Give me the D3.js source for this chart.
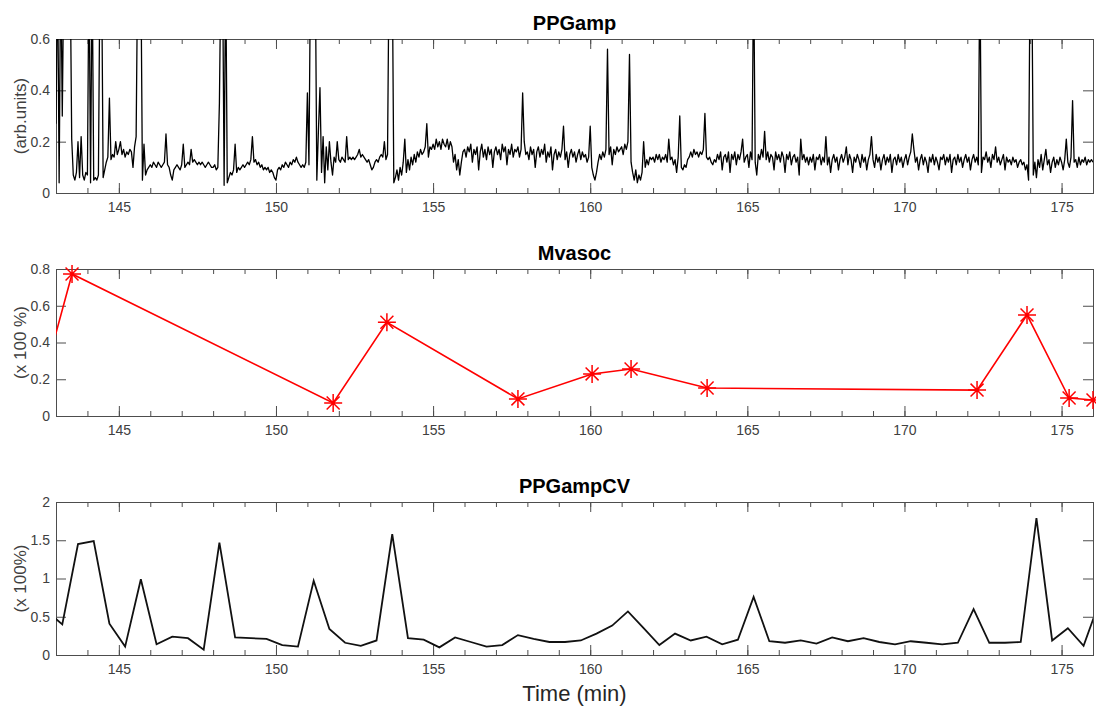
<!DOCTYPE html>
<html>
<head>
<meta charset="utf-8">
<script src="https://cdn.jsdelivr.net/npm/d3@7"></script>
<style>
body { margin: 0; background: #fff; }
svg { display: block; font-family: "Liberation Sans", Arial, sans-serif; }
</style>
</head>
<body>
<div id="chart"></div>
<script>
//Datos PPGamp (muestreo regular cada 0.05 min desde 143)
const ppgAmpStart = 143, ppgAmpStep = 0.05;
const ppgAmp = [
  0.27,0.9,0.04,0.9,0.3,0.9,0.9,0.9,0.9,0.9,0.21,0.07,0.05,0.08,0.20,0.06,0.22,0.07,0.05,0.08,
  0.07,0.9,0.04,0.9,0.05,0.06,0.05,0.07,0.9,0.9,0.06,0.09,0.12,0.14,0.37,0.13,0.15,0.14,0.20,0.15,
  0.17,0.20,0.15,0.17,0.14,0.16,0.15,0.17,0.16,0.10,0.18,0.22,0.9,0.9,0.9,0.05,0.19,0.07,0.09,0.10,
  0.11,0.10,0.12,0.11,0.10,0.12,0.11,0.10,0.11,0.12,0.23,0.11,0.10,0.07,0.05,0.09,0.10,0.11,0.10,0.09,
  0.11,0.19,0.10,0.11,0.12,0.11,0.17,0.12,0.13,0.12,0.11,0.12,0.11,0.12,0.11,0.10,0.11,0.12,0.11,0.10,
  0.10,0.11,0.09,0.10,0.35,0.9,0.9,0.03,0.9,0.04,0.06,0.08,0.07,0.09,0.19,0.08,0.10,0.09,0.10,0.11,
  0.10,0.11,0.12,0.11,0.13,0.22,0.12,0.13,0.11,0.12,0.10,0.11,0.09,0.10,0.09,0.10,0.08,0.09,0.08,0.06,
  0.05,0.09,0.10,0.09,0.11,0.10,0.12,0.11,0.10,0.12,0.11,0.13,0.12,0.14,0.12,0.11,0.10,0.11,0.10,0.12,
  0.39,0.11,0.9,0.9,0.9,0.9,0.05,0.24,0.41,0.08,0.22,0.04,0.18,0.09,0.20,0.12,0.07,0.14,0.12,0.20,
  0.13,0.12,0.14,0.13,0.12,0.22,0.13,0.14,0.13,0.14,0.13,0.14,0.15,0.17,0.14,0.15,0.14,0.13,0.12,0.13,
  0.11,0.09,0.10,0.12,0.13,0.12,0.14,0.15,0.14,0.20,0.13,0.15,0.9,0.9,0.9,0.04,0.06,0.09,0.05,0.10,
  0.07,0.12,0.21,0.08,0.13,0.09,0.14,0.11,0.15,0.12,0.16,0.14,0.17,0.15,0.16,0.18,0.27,0.14,0.18,0.17,
  0.19,0.17,0.21,0.18,0.20,0.17,0.21,0.19,0.18,0.21,0.17,0.20,0.18,0.12,0.15,0.09,0.13,0.07,0.12,0.16,
  0.17,0.14,0.18,0.16,0.19,0.12,0.17,0.15,0.18,0.09,0.16,0.19,0.14,0.17,0.13,0.18,0.15,0.17,0.10,0.16,
  0.18,0.15,0.17,0.13,0.19,0.16,0.18,0.11,0.17,0.15,0.19,0.14,0.17,0.16,0.18,0.14,0.17,0.39,0.20,0.15,
  0.16,0.13,0.18,0.15,0.17,0.10,0.16,0.18,0.14,0.17,0.15,0.19,0.12,0.16,0.14,0.18,0.09,0.15,0.17,0.13,
  0.16,0.14,0.17,0.26,0.13,0.16,0.10,0.15,0.17,0.14,0.16,0.12,0.15,0.17,0.13,0.16,0.14,0.15,0.12,0.14,
  0.26,0.10,0.07,0.05,0.08,0.12,0.15,0.13,0.16,0.14,0.17,0.56,0.15,0.18,0.11,0.17,0.15,0.18,0.16,0.17,
  0.18,0.15,0.19,0.17,0.20,0.54,0.12,0.08,0.05,0.09,0.04,0.07,0.05,0.08,0.20,0.10,0.13,0.11,0.14,0.13,
  0.14,0.12,0.15,0.13,0.15,0.12,0.14,0.13,0.15,0.12,0.21,0.13,0.14,0.11,0.13,0.08,0.14,0.30,0.10,0.09,
  0.11,0.10,0.13,0.14,0.16,0.14,0.17,0.15,0.16,0.14,0.16,0.15,0.17,0.31,0.14,0.13,0.14,0.12,0.11,0.13,
  0.12,0.15,0.13,0.16,0.09,0.14,0.15,0.12,0.16,0.08,0.15,0.13,0.16,0.11,0.15,0.13,0.16,0.21,0.12,0.14,
  0.15,0.10,0.16,0.13,0.9,0.12,0.07,0.15,0.13,0.17,0.14,0.24,0.13,0.16,0.12,0.15,0.14,0.09,0.16,0.13,
  0.15,0.12,0.16,0.14,0.08,0.15,0.13,0.16,0.11,0.14,0.15,0.12,0.14,0.07,0.21,0.13,0.15,0.12,0.14,0.11,
  0.14,0.12,0.15,0.09,0.14,0.13,0.15,0.11,0.14,0.12,0.22,0.11,0.14,0.08,0.13,0.15,0.12,0.14,0.09,0.13,
  0.15,0.12,0.14,0.18,0.11,0.15,0.13,0.08,0.14,0.12,0.15,0.13,0.10,0.15,0.12,0.14,0.09,0.13,0.15,0.22,
  0.13,0.10,0.15,0.12,0.14,0.09,0.13,0.15,0.11,0.14,0.12,0.15,0.08,0.13,0.14,0.11,0.15,0.12,0.14,0.10,
  0.13,0.15,0.11,0.14,0.16,0.23,0.17,0.12,0.14,0.09,0.13,0.15,0.11,0.14,0.12,0.08,0.14,0.12,0.15,0.11,
  0.14,0.12,0.09,0.14,0.13,0.15,0.11,0.14,0.12,0.15,0.08,0.13,0.14,0.11,0.15,0.12,0.14,0.10,0.13,0.15,
  0.12,0.14,0.09,0.13,0.15,0.12,0.14,0.11,0.9,0.08,0.14,0.13,0.16,0.12,0.14,0.10,0.15,0.13,0.18,0.12,
  0.14,0.11,0.13,0.15,0.09,0.14,0.12,0.13,0.11,0.14,0.12,0.13,0.10,0.12,0.13,0.11,0.12,0.09,0.11,0.05,
  0.9,0.9,0.07,0.12,0.06,0.13,0.10,0.15,0.09,0.13,0.17,0.11,0.13,0.08,0.12,0.14,0.10,0.13,0.11,0.14,
  0.12,0.09,0.13,0.21,0.12,0.10,0.14,0.36,0.12,0.13,0.10,0.14,0.11,0.13,0.12,0.14,0.11,0.13,0.12,0.13,
  0.12
];

//Datos Mvasoc
const mvasocTime = [142.6, 143.51, 151.82, 153.53, 157.70, 160.06, 161.30, 163.72, 172.31, 173.90, 175.24, 176.0];
const mvasocValue = [0.20, 0.773, 0.071, 0.51, 0.093, 0.229, 0.256, 0.152, 0.141, 0.55, 0.098, 0.087];

//Datos PPGampCV
const cvTime = [142.7, 143.2, 143.7, 144.2, 144.7, 145.2, 145.7, 146.2, 146.7, 147.2, 147.7, 148.2, 148.7, 149.2,
  149.7, 150.2, 150.7, 151.2, 151.7, 152.2, 152.7, 153.2, 153.7, 154.2, 154.7, 155.2, 155.7, 156.2, 156.7, 157.2,
  157.7, 158.2, 158.7, 159.2, 159.7, 160.2, 160.7, 161.2, 161.7, 162.2, 162.7, 163.2, 163.7, 164.2, 164.7, 165.2,
  165.7, 166.2, 166.7, 167.2, 167.7, 168.2, 168.7, 169.2, 169.7, 170.2, 170.7, 171.2, 171.7, 172.2, 172.7, 173.2,
  173.7, 174.2, 174.7, 175.2, 175.7, 176.2];
const cvValue = [0.575, 0.40, 1.45, 1.49, 0.41, 0.11, 0.99, 0.14, 0.24, 0.22, 0.07, 1.47, 0.23, 0.22,
  0.21, 0.13, 0.11, 0.97, 0.34, 0.16, 0.12, 0.19, 1.58, 0.22, 0.20, 0.10, 0.23, 0.17, 0.11, 0.13,
  0.26, 0.21, 0.17, 0.17, 0.19, 0.28, 0.385, 0.57, 0.35, 0.13, 0.28, 0.19, 0.24, 0.14, 0.20, 0.76,
  0.18, 0.16, 0.19, 0.15, 0.23, 0.18, 0.22, 0.17, 0.14, 0.18, 0.16, 0.14, 0.16, 0.60, 0.16, 0.16,
  0.17, 1.79, 0.19, 0.35, 0.12, 0.69];

//Ticks
const xDomain = [143, 176];
const xMajorTicks = [145, 150, 155, 160, 165, 170, 175];
const xMinorTicks = d3.range(143, 177);
const ppgAmpTicks = [0, 0.2, 0.4, 0.6];
const mvasocTicks = [0, 0.2, 0.4, 0.6, 0.8];
const cvTicks = [0, 0.5, 1, 1.5, 2];

//Colores
const COLOR_AXIS = '#4d4d4d', COLOR_TEXT = '#404040', COLOR_RED = '#ff0000';

let width = 1096, height = 707;
let margin = {left: 56, right: 1093};

let panels = [
    {title: 'PPGamp', ylabel: '(arb.units)', top: 39, bottom: 193, yMax: 0.6, yTicks: ppgAmpTicks},
    {title: 'Mvasoc', ylabel: '(x 100 %)', top: 269, bottom: 416, yMax: 0.8, yTicks: mvasocTicks},
    {title: 'PPGampCV', ylabel: '(x 100%)', top: 502, bottom: 655, yMax: 2, yTicks: cvTicks}
];

let svg = d3.select('#chart')
    .append('svg')
      .attr('width', width)
      .attr('height', height);

//Eje X compartido
let x = d3.scaleLinear()
    .domain(xDomain)
    .range([margin.left, margin.right]);

function styleAxis(a) {
    a.select('.domain').remove();
    a.selectAll('line').attr('stroke', COLOR_AXIS);
    a.selectAll('text')
        .attr('fill', COLOR_TEXT)
        .style('font-size', '14px')
        .style('font-family', '"Liberation Sans", Arial, sans-serif');
}

function drawPanel(p, i) {
    let y = d3.scaleLinear()
        .domain([0, p.yMax])
        .range([p.bottom, p.top]);

    let g = svg.append('g').attr('class', 'panel-' + i);

    g.append('clipPath')
        .attr('id', 'clip-' + i)
      .append('rect')
        .attr('x', margin.left)
        .attr('y', p.top)
        .attr('width', margin.right - margin.left)
        .attr('height', p.bottom - p.top);

    //Eje X abajo y arriba
    g.append('g')
        .attr('transform', 'translate(0,' + p.bottom + ')')
        .call(d3.axisBottom(x).tickValues(xMinorTicks).tickSize(-5).tickFormat(''))
        .call(styleAxis);
    g.append('g')
        .attr('transform', 'translate(0,' + p.bottom + ')')
        .call(d3.axisBottom(x).tickValues(xMajorTicks).tickSize(-10).tickPadding(9))
        .call(styleAxis);
    g.append('g')
        .attr('transform', 'translate(0,' + p.top + ')')
        .call(d3.axisTop(x).tickValues(xMinorTicks).tickSize(-5).tickFormat(''))
        .call(styleAxis);
    g.append('g')
        .attr('transform', 'translate(0,' + p.top + ')')
        .call(d3.axisTop(x).tickValues(xMajorTicks).tickSize(-10).tickFormat(''))
        .call(styleAxis);

    //Eje Y izquierda y derecha
    g.append('g')
        .attr('transform', 'translate(' + margin.left + ',0)')
        .call(d3.axisLeft(y).tickValues(p.yTicks).tickSize(-10).tickPadding(6).tickFormat(d3.format('~g')))
        .call(styleAxis);
    g.append('g')
        .attr('transform', 'translate(' + margin.right + ',0)')
        .call(d3.axisRight(y).tickValues(p.yTicks).tickSize(-10).tickFormat(''))
        .call(styleAxis);

    //Caja
    g.append('rect')
        .attr('x', margin.left + 0.5)
        .attr('y', p.top + 0.5)
        .attr('width', margin.right - margin.left)
        .attr('height', p.bottom - p.top)
        .attr('fill', 'none')
        .attr('stroke', COLOR_AXIS)
        .attr('stroke-width', 1);

    //Titulo
    g.append('text')
        .attr('x', (margin.left + margin.right) / 2)
        .attr('y', p.top - 9)
        .attr('text-anchor', 'middle')
        .attr('fill', '#000')
        .style('font-size', '20px')
        .style('font-weight', 'bold')
        .text(p.title);

    //Etiqueta eje Y
    g.append('text')
        .attr('transform', 'translate(20,' + ((p.top + p.bottom) / 2) + ') rotate(-90)')
        .attr('text-anchor', 'middle')
        .attr('dy', '0.35em')
        .attr('fill', COLOR_TEXT)
        .style('font-size', '17px')
        .text(p.ylabel);

    return {g: g, y: y};
}

let charts = panels.map(drawPanel);

//PPGamp
let ppgData = ppgAmp.map(function(v, i) { return {t: ppgAmpStart + i * ppgAmpStep, v: v}; });
let y1 = charts[0].y;
charts[0].g.append('path')
    .datum(ppgData)
    .attr('clip-path', 'url(#clip-0)')
    .attr('fill', 'none')
    .attr('stroke', '#000')
    .attr('stroke-width', 1.3)
    .attr('stroke-linejoin', 'round')
    .attr('d', d3.line()
        .x(function(d) { return x(d.t); })
        .y(function(d) { return y1(d.v); }));

//Mvasoc
let mvData = mvasocTime.map(function(t, i) { return {t: t, v: mvasocValue[i]}; });
let y2 = charts[1].y;
charts[1].g.append('path')
    .datum(mvData)
    .attr('clip-path', 'url(#clip-1)')
    .attr('fill', 'none')
    .attr('stroke', COLOR_RED)
    .attr('stroke-width', 1.6)
    .attr('d', d3.line()
        .x(function(d) { return x(d.t); })
        .y(function(d) { return y2(d.v); }));

let r = 9, rd = r * 0.72;
let star = 'M0,' + (-r) + 'V' + r + 'M' + (-r) + ',0H' + r +
    'M' + (-rd) + ',' + (-rd) + 'L' + rd + ',' + rd +
    'M' + (-rd) + ',' + rd + 'L' + rd + ',' + (-rd);

charts[1].g.append('g')
    .selectAll('path')
    .data(mvData.filter(function(d) { return d.t >= xDomain[0] && d.t <= xDomain[1]; }))
    .enter()
    .append('path')
      .attr('transform', function(d) { return 'translate(' + x(d.t) + ',' + y2(d.v) + ')'; })
      .attr('d', star)
      .attr('fill', 'none')
      .attr('stroke', COLOR_RED)
      .attr('stroke-width', 1.5);

//PPGampCV
let cvData = cvTime.map(function(t, i) { return {t: t, v: cvValue[i]}; });
let y3 = charts[2].y;
charts[2].g.append('path')
    .datum(cvData)
    .attr('clip-path', 'url(#clip-2)')
    .attr('fill', 'none')
    .attr('stroke', '#111')
    .attr('stroke-width', 1.8)
    .attr('stroke-linejoin', 'miter')
    .attr('d', d3.line()
        .x(function(d) { return x(d.t); })
        .y(function(d) { return y3(d.v); }));

//Etiqueta eje X
svg.append('text')
    .attr('x', (margin.left + margin.right) / 2)
    .attr('y', 701)
    .attr('text-anchor', 'middle')
    .attr('fill', '#262626')
    .style('font-size', '22px')
    .text('Time (min)');
</script>
</body>
</html>
